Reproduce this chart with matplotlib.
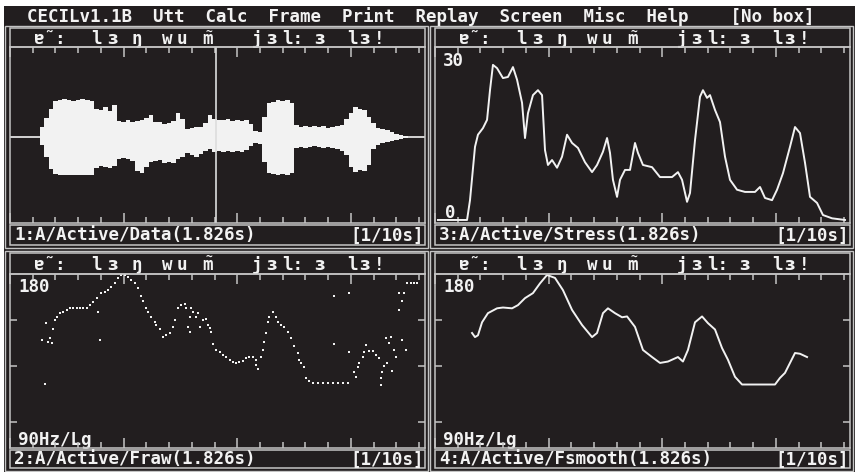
import matplotlib
matplotlib.use("Agg")
import numpy as np
import matplotlib.pyplot as plt
from matplotlib.patches import Rectangle
from matplotlib.ticker import MultipleLocator, FixedLocator, NullLocator, NullFormatter

W, H = 855, 472
BG = '#221e1f'
FG = '#f2f2f2'
LINE = '#c4c4c4'
FONT = 'DejaVu Sans Mono'
FS = 12.6

DUR = 1.826

menu_text = "CECILv1.1B  Utt  Calc  Frame  Print  Replay  Screen  Misc  Help    [No box]"
panel_names = ["1:A/Active/Data(1.826s)", "3:A/Active/Stress(1.826s)",
               "2:A/Active/Fraw(1.826s)", "4:A/Active/Fsmooth(1.826s)"]
tick_unit = "[1/10s]"

# transcription, aligned in time (s)
phones = ["ɐ˜:", "l", "ɜ", "ŋ", "w", "u", "m̃", "j", "ɜ", "l:", "ɜ", "l", "ɜ", "!"]
phone_t = [0.176, 0.382, 0.452, 0.557, 0.693, 0.755, 0.869,
           1.088, 1.150, 1.246, 1.361, 1.505, 1.558, 1.624]

# panel 1: waveform envelope, every 0.02 s
wave_t = np.arange(92) * 0.02
wave_top = [0, 0, 0, 0, 0, 0, 0, 10, 19, 28,
            36, 37, 38, 37, 36, 37, 38, 37, 36, 28,
            27, 30, 26, 32, 16, 15, 17, 15, 16, 17,
            19, 22, 15, 15, 13, 14, 16, 24, 18, 8,
            9, 10, 10, 14, 22, 18, 17, 17, 18, 16,
            17, 16, 17, 13, 6, 5, 20, 34, 35, 37,
            36, 37, 34, 12, 10, 11, 10, 11, 10, 11,
            9, 10, 11, 12, 18, 24, 30, 28, 27, 20,
            14, 9, 8, 7, 5, 3, 2, 1, 0, 0,
            0, 0]
wave_bot = [0, 0, 0, 0, 0, 0, 0, 8, 20, 32,
            37, 38, 38, 38, 38, 38, 38, 38, 38, 31,
            29, 30, 31, 29, 22, 21, 22, 24, 34, 36,
            30, 25, 24, 23, 26, 25, 26, 22, 20, 16,
            18, 20, 17, 14, 12, 15, 14, 15, 14, 15,
            14, 15, 13, 9, 6, 7, 25, 36, 37, 38,
            37, 38, 36, 11, 10, 11, 10, 9, 10, 11,
            10, 11, 12, 14, 18, 30, 35, 33, 34, 28,
            12, 8, 6, 5, 4, 3, 2, 1, 0, 0,
            0, 0]
cursor_t = 0.907

# panel 3: stress
stress_t = [0.013, 0.141, 0.154, 0.176, 0.189, 0.211, 0.229, 0.242, 0.255, 0.273,
            0.299, 0.321, 0.343, 0.361, 0.383, 0.396, 0.409, 0.431, 0.453, 0.471,
            0.484, 0.497, 0.515, 0.537, 0.559, 0.581, 0.603, 0.629, 0.660, 0.691,
            0.713, 0.739, 0.757, 0.770, 0.783, 0.801, 0.814, 0.836, 0.858, 0.880,
            0.893, 0.915, 0.955, 0.990, 1.043, 1.069, 1.087, 1.109, 1.122, 1.144,
            1.166, 1.179, 1.197, 1.210, 1.232, 1.254, 1.276, 1.298, 1.329, 1.364,
            1.408, 1.430, 1.452, 1.483, 1.505, 1.531, 1.562, 1.584, 1.606, 1.628,
            1.650, 1.681, 1.707, 1.747, 1.804]
stress_v = [0, 0, 3.6, 13.3, 15.5, 16.7, 18.2, 23.6, 28.2, 27.6,
            25.8, 26.0, 27.8, 25.5, 21.3, 14.9, 19.4, 22.7, 23.6, 22.7,
            12.7, 10.0, 10.9, 9.5, 11.5, 15.5, 14.0, 13.1, 10.5, 8.7,
            10.0, 12.4, 14.9, 12.2, 7.3, 4.2, 7.3, 9.1, 9.1, 14.0,
            12.2, 10.0, 9.6, 7.8, 7.8, 8.7, 7.3, 3.3, 4.9, 14.5,
            22.4, 23.6, 22.2, 22.7, 20.0, 17.8, 11.5, 7.3, 5.5, 5.1,
            5.1, 6.0, 4.0, 3.6, 5.5, 8.5, 13.3, 16.9, 15.8, 10.4,
            4.2, 3.1, 0.9, 0.3, 0]

# panel 4: smoothed F0 (Hz)
fsm_t = [0.163, 0.176, 0.189, 0.207, 0.233, 0.273, 0.299, 0.339, 0.365, 0.396,
         0.431, 0.462, 0.493, 0.528, 0.563, 0.603, 0.647, 0.691, 0.713, 0.739,
         0.761, 0.792, 0.823, 0.845, 0.880, 0.915, 0.955, 0.990, 1.025, 1.069,
         1.091, 1.113, 1.144, 1.175, 1.201, 1.232, 1.263, 1.289, 1.320, 1.351,
         1.421, 1.496, 1.518, 1.540, 1.562, 1.584, 1.606, 1.637]
fsm_hz = [142.3, 140.0, 141.0, 148.5, 154.0, 157.0, 157.5, 157.0, 159.0, 163.5,
          166.8, 173.4, 179.3, 177.2, 168.8, 156.0, 146.9, 140.0, 142.3, 154.0,
          157.0, 154.0, 151.5, 152.0, 145.8, 133.0, 129.3, 126.3, 127.0, 129.3,
          127.0, 133.0, 148.5, 152.0, 148.0, 144.3, 134.0, 127.9, 119.5, 115.9,
          115.9, 115.9, 119.0, 121.4, 126.3, 131.4, 131.0, 129.3]

# panel 2: raw F0 points (Hz)
fraw_t = [0.139, 0.154, 0.158, 0.168, 0.176, 0.183, 0.190, 0.197, 0.205, 0.219,
          0.234, 0.249, 0.263, 0.278, 0.293, 0.307, 0.322, 0.337, 0.351, 0.366,
          0.381, 0.388, 0.395, 0.402, 0.417, 0.431, 0.446, 0.461, 0.475, 0.490,
          0.505, 0.519, 0.534, 0.549, 0.563, 0.578, 0.585, 0.600, 0.607, 0.622,
          0.636, 0.644, 0.658, 0.673, 0.688, 0.702, 0.717, 0.724, 0.739, 0.754,
          0.768, 0.776, 0.783, 0.790, 0.790, 0.797, 0.805, 0.819, 0.826, 0.834,
          0.848, 0.863, 0.870, 0.878, 0.885, 0.892, 0.907, 0.922, 0.936, 0.951,
          0.966, 0.980, 0.995, 1.009, 1.024, 1.039, 1.053, 1.068, 1.083, 1.090,
          1.083, 1.105, 1.112, 1.119, 1.127, 1.134, 1.141, 1.156, 1.171, 1.178,
          1.193, 1.207, 1.221, 1.236, 1.251, 1.265, 1.273, 1.280, 1.295, 1.302,
          1.317, 1.331, 1.353, 1.375, 1.397, 1.419, 1.441, 1.463, 1.485, 1.426,
          1.492, 1.426, 1.492, 1.514, 1.522, 1.529, 1.536, 1.551, 1.558, 1.566,
          1.580, 1.595, 1.609, 1.624, 1.631, 1.631, 1.638, 1.646, 1.653, 1.660,
          1.668, 1.675, 1.682, 1.690, 1.697, 1.712, 1.712, 1.726, 1.734, 1.726,
          1.741, 1.748, 1.763, 1.778, 1.792]
fraw_hz = [138.4, 116.2, 148.0, 137.3, 139.4, 136.7, 144.3, 149.9, 151.5, 154.0,
           154.6, 156.0, 157.0, 157.5, 157.5, 157.0, 157.0, 157.5, 159.0, 161.0,
           163.5, 154.6, 138.4, 166.8, 167.4, 168.8, 171.0, 173.4, 177.2, 179.3,
           179.3, 178.0, 175.9, 173.4, 169.9, 165.1, 161.8, 157.5, 154.6, 151.5,
           148.5, 146.9, 144.3, 140.0, 141.0, 142.3, 145.8, 149.9, 157.0, 159.0,
           160.0, 157.0, 145.8, 151.5, 142.8, 157.5, 154.6, 151.5, 154.0, 145.8,
           149.9, 150.7, 146.9, 145.0, 142.8, 136.0, 133.0, 131.9, 130.3, 129.3,
           127.9, 127.0, 126.3, 127.0, 127.5, 128.8, 129.3, 129.3, 127.9, 123.4,
           125.5, 129.3, 133.0, 137.3, 142.3, 148.5, 151.5, 154.6, 151.5, 148.5,
           146.9, 145.8, 142.8, 139.4, 135.0, 131.4, 127.9, 126.3, 124.2, 119.0,
           117.7, 116.6, 116.6, 116.6, 116.6, 116.6, 116.6, 116.6, 116.6, 165.1,
           166.8, 136.0, 131.9, 121.9, 119.5, 124.2, 126.3, 129.3, 131.9, 135.6,
           132.5, 132.5, 130.3, 128.8, 119.0, 115.9, 121.9, 124.8, 139.4, 126.3,
           136.7, 140.0, 122.5, 133.0, 129.3, 156.0, 166.8, 161.8, 166.8, 138.4,
           133.0, 173.4, 173.4, 173.4, 173.4]

# layout in screen pixels
cols = [(10, 425), (435, 850)]
rows = [dict(trans=(28, 47), plot=(47, 223), label=(225, 245)),
        dict(trans=(253, 274), plot=(274, 448), label=(450, 468))]


def px_axes(fig, x0, x1, y0, y1):
    return fig.add_axes([x0 / W, 1 - y1 / H, (x1 - x0) / W, (y1 - y0) / H])


def txt(ax, x, y, s, **kw):
    kw.setdefault('ha', 'left')
    ax.text(x, y, s, color=FG, fontsize=FS, family=FONT, weight='bold',
            va='center', **kw)


fig = plt.figure(figsize=(W / 100, H / 100), dpi=100, facecolor='white')
bg = fig.add_axes([0, 0, 1, 1])
bg.set_xlim(0, W)
bg.set_ylim(H, 0)
bg.axis('off')
bg.add_patch(Rectangle((4, 6), W - 4, H - 6, color=BG, lw=0))
txt(bg, 27, 16.5, menu_text)

plots = {}
for r, row in enumerate(rows):
    for c, (x0, x1) in enumerate(cols):
        idx = r * 2 + c
        ty0, ty1 = row['trans']
        py0, py1 = row['plot']
        ly0, ly1 = row['label']
        # outer frame, transcription box, label box
        bg.add_patch(Rectangle((x0 - 5, ty0 - 2), x1 - x0 + 8, ly1 - ty0 + 5,
                               fill=False, ec=LINE, lw=1.0))
        bg.add_patch(Rectangle((x0, ty0), x1 - x0, ty1 - ty0, fill=False, ec=LINE, lw=1.1))
        bg.add_patch(Rectangle((x0, ly0), x1 - x0, ly1 - ly0, fill=False, ec=LINE, lw=1.1))
        txt(bg, x0 + 4, (ly0 + ly1) / 2 + 0.5, panel_names[idx])
        txt(bg, x1 - 1, (ly0 + ly1) / 2 + 0.5, tick_unit, ha='right')

        tax = px_axes(fig, x0, x1, ty0, ty1)
        tax.set_xlim(0, DUR)
        tax.set_ylim(0, 1)
        tax.axis('off')
        for p, t in zip(phones, phone_t):
            base = p.replace('\u0303', '')
            tax.text(t, 0.42, base, color=FG, fontsize=FS, family=FONT,
                     weight='bold', ha='center', va='center')
            if base != p:
                # nasal mark sits on top of the letter
                tax.text(t + 0.004, 0.80, '~', color=FG, fontsize=8, family=FONT,
                         weight='bold', ha='center', va='center')

        ax = px_axes(fig, x0, x1, py0, py1)
        ax.set_facecolor('none')
        ax.set_xlim(0, DUR)
        for s in ax.spines.values():
            s.set_color(LINE)
            s.set_linewidth(1.1)
        ax.xaxis.set_major_locator(MultipleLocator(0.5))
        ax.xaxis.set_minor_locator(MultipleLocator(0.1))
        ax.xaxis.set_major_formatter(NullFormatter())
        ax.tick_params(axis='x', which='both', direction='in', top=True, bottom=True,
                       color=LINE, width=1.1)
        ax.tick_params(axis='x', which='major', length=7)
        ax.tick_params(axis='x', which='minor', length=4)
        plots[idx] = ax

# panel 1: waveform
ax = plots[0]
ax.set_ylim(-86, 90)
ax.yaxis.set_major_locator(NullLocator())
ax.fill_between(wave_t, wave_top, -np.array(wave_bot), step='mid', color=FG, lw=0)
ax.axhline(0, color=FG, lw=1.2)
ax.axvline(cursor_t, color='#dddddd', lw=1.2)

# panel 3: stress
ax = plots[1]
ax.set_ylim(-0.55, 31.45)
ax.yaxis.set_major_locator(NullLocator())
ax.plot(stress_t, stress_v, color=FG, lw=1.4)
txt(bg, 443, 61, "30")
txt(bg, 445, 213, "0")

# panels 2 and 4: F0, log scale
for idx in (2, 3):
    ax = plots[idx]
    ax.set_yscale('log')
    ax.set_ylim(90, 180)
    ax.yaxis.set_major_locator(FixedLocator([100, 125, 150]))
    ax.yaxis.set_minor_locator(NullLocator())
    ax.yaxis.set_major_formatter(NullFormatter())
    ax.yaxis.set_minor_formatter(NullFormatter())
    ax.tick_params(axis='y', direction='in', left=True, right=True, length=5,
                   color=LINE, width=1.1)
    x0 = cols[idx - 2][0]
    txt(bg, x0 + 8, 287, "180")
    txt(bg, x0 + 8, 440, "90Hz/Lg")

plots[2].plot(fraw_t, fraw_hz, ls='none', marker='s', ms=1.8, color=FG, mew=0)
plots[3].plot(fsm_t, fsm_hz, color=FG, lw=1.4)

fig.savefig('out.png', dpi=100, facecolor='white')
